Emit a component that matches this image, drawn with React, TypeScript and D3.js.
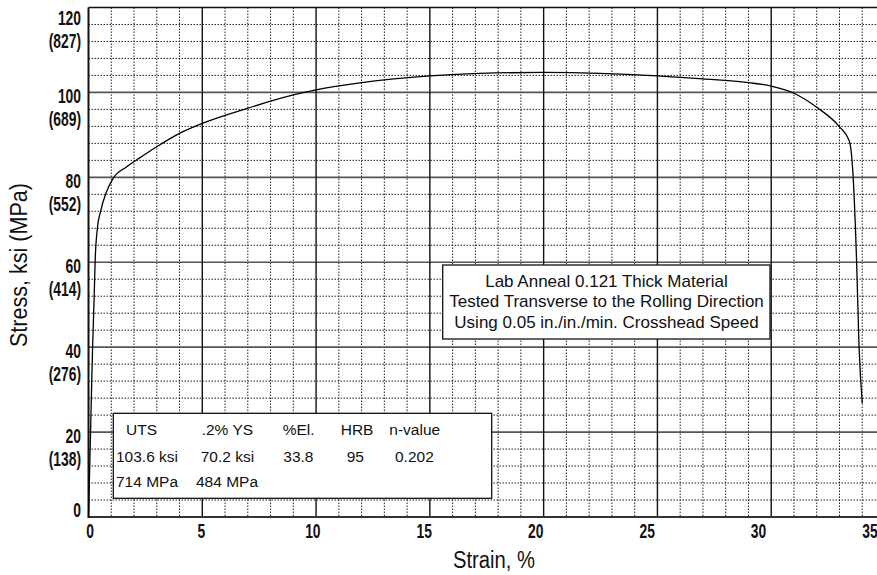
import React from "react";
import * as d3 from "d3";

const strain = [0, 0.09, 0.18, 0.25, 0.29, 0.39, 0.53, 0.77, 1.09, 1.68, 2.34, 3.0, 4.02, 5.0, 6.95, 9.0, 10, 12, 15, 17.2, 20, 22.47, 25, 27, 29, 30, 31, 32, 33, 33.43, 33.6, 33.75, 33.86, 34.0];
const stress = [0, 20, 40, 52, 60, 68, 72, 76.3, 79.8, 82.5, 84.9, 87.2, 90.4, 92.7, 96.2, 99.4, 100.6, 102.3, 103.9, 104.5, 104.7, 104.5, 103.9, 103.2, 102.3, 101.5, 99.8, 96.5, 91.9, 88.6, 80.1, 60.5, 40.1, 26.8];

const xTicks = [0, 5, 10, 15, 20, 25, 30, 35];
const yTicksKsi = [0, 20, 40, 60, 80, 100, 120];
const yTicksMPa = ["", "(138)", "(276)", "(414)", "(552)", "(689)", "(827)"];

const infoLines = [
  "Lab Anneal 0.121 Thick Material",
  "Tested Transverse to the Rolling Direction",
  "Using 0.05 in./in./min. Crosshead Speed",
];
const tableHeader = ["UTS", ".2% YS", "%El.", "HRB", "n-value"];
const tableRow1 = ["103.6 ksi", "70.2 ksi", "33.8", "95", "0.202"];
const tableRow2 = ["714 MPa", "484 MPa"];

const W = 877;
const H = 575;

export default function App() {
  const x = d3.scaleLinear().domain([0, 35]).range([88.5, 885]);
  const y = d3.scaleLinear().domain([0, 120]).range([517, 7.5]);
  const xLab = d3.scaleLinear().domain([0, 35]).range([90, 870]);

  const pts = strain.map((s, i) => [s, stress[i]] as [number, number]);
  const line = d3
    .line<[number, number]>()
    .x((d) => x(d[0]))
    .y((d) => y(d[1]))
    .curve(d3.curveMonotoneX);

  const minorX = d3.range(1, 35).filter((v) => v % 5 !== 0);
  const majorX = d3.range(5, 36, 5);
  const minorY = d3.range(4, 120, 4).filter((v) => v % 20 !== 0);
  const majorY = d3.range(20, 120, 20);

  const tickFont = "'Liberation Sans', Arial, sans-serif";
  const sans = "'Liberation Sans', Arial, Helvetica, sans-serif";

  const headerX = [126, 201.7, 282.7, 340.7, 389.3];
  const row1X = [116, 200.7, 283.3, 346.7, 395];
  const row2X = [116, 196];

  return (
    <svg
      width={W}
      height={H}
      style={{ position: "absolute", left: 0, top: 0, background: "#fff" }}
    >
      <rect x={0} y={0} width={W} height={H} fill="#fff" />
      {/* minor grid */}
      {minorX.map((v) => (
        <line
          key={"mx" + v}
          x1={x(v)}
          x2={x(v)}
          y1={y(120)}
          y2={y(0)}
          stroke="#222"
          strokeWidth={1}
          strokeDasharray="1.5,1.5"
        />
      ))}
      {minorY.map((v) => (
        <line
          key={"my" + v}
          x1={x(0)}
          x2={W}
          y1={y(v)}
          y2={y(v)}
          stroke="#222"
          strokeWidth={1}
          strokeDasharray="1.5,1.5"
        />
      ))}
      {/* major grid */}
      {majorY.map((v) => (
        <line
          key={"My" + v}
          x1={x(0)}
          x2={W}
          y1={y(v)}
          y2={y(v)}
          stroke="#555"
          strokeWidth={1.6}
        />
      ))}
      {majorX.map((v) => (
        <line
          key={"Mx" + v}
          x1={x(v)}
          x2={x(v)}
          y1={y(120)}
          y2={y(0)}
          stroke="#111"
          strokeWidth={1.4}
        />
      ))}
      {/* frame */}
      <line x1={x(0)} x2={W} y1={y(120)} y2={y(120)} stroke="#111" strokeWidth={1.6} />
      <line x1={x(0)} x2={W} y1={y(0)} y2={y(0)} stroke="#333" strokeWidth={2.2} />
      <line x1={x(0)} x2={x(0)} y1={y(120)} y2={y(0) + 1} stroke="#111" strokeWidth={2} />

      {/* curve */}
      <path d={line(pts) || ""} fill="none" stroke="#000" strokeWidth={1.3} />

      {/* info box */}
      <rect x={442.7} y={265} width={327.3} height={74} fill="#fff" stroke="#111" strokeWidth={1.3} />
      {infoLines.map((t, i) => (
        <text
          key={t}
          x={606.5}
          y={286.7 + i * 20.5}
          textAnchor="middle"
          fontFamily={sans}
          fontSize={17}
          fill="#111"
        >
          {t}
        </text>
      ))}

      {/* properties table */}
      <rect x={113.3} y={413.3} width={378.4} height={85} fill="#fff" stroke="#111" strokeWidth={1.3} />
      {tableHeader.map((t, i) => (
        <text key={"h" + i} x={headerX[i]} y={435} fontFamily={sans} fontSize={15.5} fill="#111">
          {t}
        </text>
      ))}
      {tableRow1.map((t, i) => (
        <text key={"r1" + i} x={row1X[i]} y={461.7} fontFamily={sans} fontSize={15.5} fill="#111">
          {t}
        </text>
      ))}
      {tableRow2.map((t, i) => (
        <text key={"r2" + i} x={row2X[i]} y={487.3} fontFamily={sans} fontSize={15.5} fill="#111">
          {t}
        </text>
      ))}

      {/* y tick labels */}
      {yTicksKsi.map((v, i) => {
        const c = Math.min(509.5, Math.max(17.5, y(v) + 3.5));
        return (
          <g key={"yl" + v}>
            <text
              transform={`translate(81,${c + 7.5}) scale(0.66,1)`}
              textAnchor="end"
              fontFamily={tickFont}
              fontWeight="bold"
              fontSize={21}
              fill="#111"
            >
              {v}
            </text>
            {yTicksMPa[i] && (
              <text
                transform={`translate(81,${c + 30.5}) scale(0.66,1)`}
                textAnchor="end"
                fontFamily={tickFont}
                fontWeight="bold"
                fontSize={21}
                fill="#111"
              >
                {yTicksMPa[i]}
              </text>
            )}
          </g>
        );
      })}

      {/* x tick labels */}
      {xTicks.map((v) => (
        <text
          key={"xl" + v}
          transform={`translate(${xLab(v)},538) scale(0.66,1)`}
          textAnchor="middle"
          fontFamily={tickFont}
          fontWeight="bold"
          fontSize={21}
          fill="#111"
        >
          {v}
        </text>
      ))}

      {/* axis titles */}
      <text
        x={494}
        y={568.3}
        textAnchor="middle"
        fontFamily={sans}
        fontSize={23}
        textLength={82}
        lengthAdjust="spacingAndGlyphs"
        fill="#111"
      >
        Strain, %
      </text>
      <text
        transform="translate(26.5,265) rotate(-90)"
        textAnchor="middle"
        fontFamily={sans}
        fontSize={23}
        textLength={164}
        lengthAdjust="spacingAndGlyphs"
        fill="#111"
      >
        Stress, ksi (MPa)
      </text>
    </svg>
  );
}
